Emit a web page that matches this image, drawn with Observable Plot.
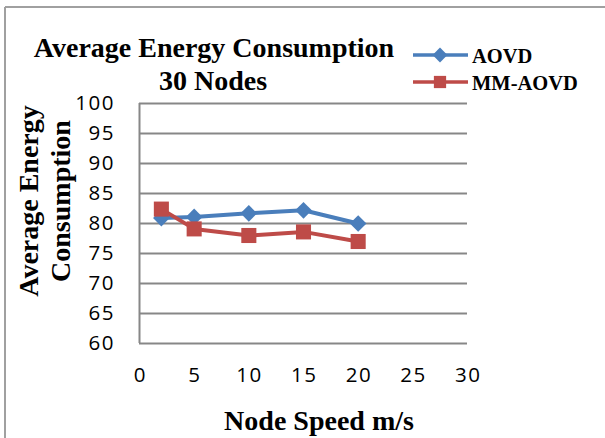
<!DOCTYPE html>
<html>
<head>
<meta charset="utf-8">
<script src="https://cdn.jsdelivr.net/npm/d3@7"></script>
<script src="https://cdn.jsdelivr.net/npm/@observablehq/plot@0.6"></script>
<style>
  html, body { margin: 0; padding: 0; background: #fff; }
  #chart { width: 605px; height: 438px; overflow: hidden; }
  #chart svg g[aria-label="y-axis tick label"] text,
  #chart svg g[aria-label="x-axis tick label"] text { letter-spacing: 1.5px; }
</style>
</head>
<body>
<div id="chart"></div>
<script>
const speeds = [2, 5, 10, 15, 20];
const aovd = [80.9, 81.1, 81.7, 82.2, 80.0];
const mmAovd = [82.4, 79.1, 78.0, 78.6, 77.0];
const seriesNames = ["AOVD", "MM-AOVD"];
const seriesColors = ["#4a7ebb", "#be4b48"];
const xTicks = [0, 5, 10, 15, 20, 25, 30];
const yTicks = [60, 65, 70, 75, 80, 85, 90, 95, 100];
const chartTitle = ["Average Energy Consumption", "30 Nodes"];
const xTitle = "Node Speed m/s";
const yTitle = ["Average Energy", "Consumption"];

const rows = [];
speeds.forEach((s, i) => {
  rows.push({speed: s, value: aovd[i], series: seriesNames[0]});
});
speeds.forEach((s, i) => {
  rows.push({speed: s, value: mmAovd[i], series: seriesNames[1]});
});
const rowsA = rows.filter(d => d.series === seriesNames[0]);
const rowsB = rows.filter(d => d.series === seriesNames[1]);

const gridColor = "#878787";
const serif = "'Liberation Serif', 'Times New Roman', serif";

const svg = Plot.plot({
  width: 605,
  height: 438,
  marginLeft: 139,
  marginRight: 138,
  marginTop: 103,
  marginBottom: 95,
  style: {fontFamily: "'Open Sans', sans-serif", fontSize: "20.5px", color: "#000", background: "#fff", overflow: "visible"},
  x: {domain: [0, 30], label: null},
  y: {domain: [60, 100], label: null},
  color: {domain: seriesNames, range: seriesColors},
  marks: [
    Plot.gridY(yTicks, {stroke: gridColor, strokeOpacity: 1, strokeWidth: 2}),
    Plot.ruleX([0], {stroke: gridColor, strokeWidth: 2}),
    Plot.axisX(xTicks, {tickSize: 0, tickPadding: 24, label: null, fill: "#000", dx: 0.75}),
    Plot.axisY(yTicks, {tickSize: 0, tickPadding: 24.5, label: null, fill: "#000"}),
    Plot.line(rowsA, {x: "speed", y: "value", stroke: "series", strokeWidth: 4}),
    Plot.line(rowsB, {x: "speed", y: "value", stroke: "series", strokeWidth: 4}),
    Plot.dot(rowsA, {x: "speed", y: "value", fill: "series", symbol: "diamond2", r: 7.5, stroke: null}),
    Plot.dot(rowsB, {x: "speed", y: "value", fill: "series", symbol: "square", r: 8.5, stroke: null})
  ]
});

document.getElementById("chart").appendChild(svg);
const s = d3.select(svg);

// chart area border (left and top)
s.append("line").attr("x1", 5).attr("x2", 5).attr("y1", 7).attr("y2", 438)
  .attr("stroke", "#a0a0a0").attr("stroke-width", 2);
s.append("line").attr("x1", 5).attr("x2", 605).attr("y1", 7).attr("y2", 7)
  .attr("stroke", "#a0a0a0").attr("stroke-width", 2);

function serifText(x, y, size, anchor, t) {
  return s.append("text").attr("x", x).attr("y", y).attr("text-anchor", anchor)
    .style("font-family", serif).style("font-weight", "bold").style("font-size", size + "px")
    .attr("fill", "#000").text(t);
}

// title
serifText(214, 57, 28, "middle", chartTitle[0]);
serifText(213, 90, 28, "middle", chartTitle[1]);

// x title
serifText(319, 430, 28, "middle", xTitle);

// y title
[[38, yTitle[0]], [70, yTitle[1]]].forEach(([bx, t]) => {
  s.append("text").attr("transform", `translate(${bx},201) rotate(-90)`)
    .attr("text-anchor", "middle")
    .style("font-family", serif).style("font-weight", "bold").style("font-size", "28px")
    .text(t);
});

// legend
const legY = [55, 82];
seriesNames.forEach((name, i) => {
  const g = s.append("g");
  g.append("line").attr("x1", 413).attr("x2", 468).attr("y1", legY[i]).attr("y2", legY[i])
    .attr("stroke", seriesColors[i]).attr("stroke-width", 3.5);
  const sym = i === 0 ? d3.symbolDiamond2 : d3.symbolSquare;
  g.append("path").attr("d", d3.symbol(sym, i === 0 ? 140 : 150)())
    .attr("transform", `translate(440,${legY[i]})`).attr("fill", seriesColors[i]);
  g.append("text").attr("x", 472).attr("y", legY[i] + 8).attr("text-anchor", "start")
    .style("font-family", serif).style("font-weight", "bold").style("font-size", "20.5px")
    .text(name);
});
</script>
</body>
</html>
